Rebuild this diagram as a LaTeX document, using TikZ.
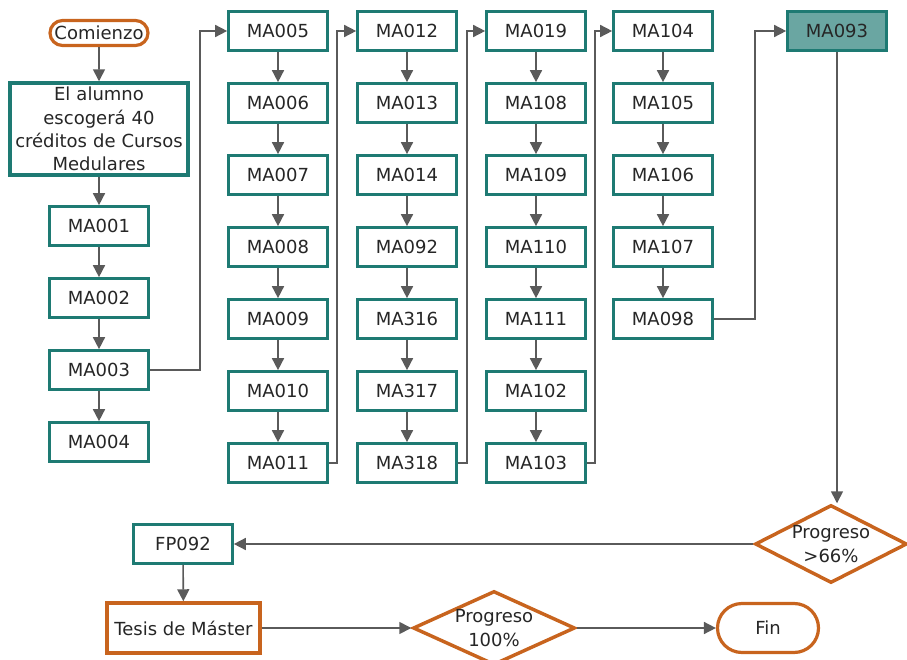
\documentclass[tikz,border=0pt]{standalone}
\usepackage{fontspec}
\setmainfont{DejaVu Sans}
\usetikzlibrary{shapes.geometric,shapes.misc,arrows.meta}
\definecolor{tealb}{RGB}{30,122,115}
\definecolor{orng}{RGB}{200,100,30}
\definecolor{arrg}{RGB}{90,90,90}
\definecolor{tealf}{RGB}{106,166,162}
\begin{document}
\begin{tikzpicture}[x=0.75pt,y=-0.75pt,
  every node/.style={font=\fontsize{13.5pt}{17.5pt}\selectfont, text=black!85},
  box/.style={draw=tealb, line width=2pt, fill=white, rectangle, minimum width=74.25pt, minimum height=29.25pt, inner sep=0pt},
  term/.style={draw=orng, line width=2.4pt, fill=white, rounded rectangle, inner sep=0pt},
  dec/.style={draw=orng, line width=2.6pt, fill=white, diamond, inner sep=0pt, align=center},
  arr/.style={draw=arrg, line width=1.2pt, -{Triangle[width=9pt,length=9pt]}},
  ln/.style={draw=arrg, line width=1.2pt}]
\useasboundingbox (0,0) rectangle (907,660);
% column 1
\node[term, minimum width=73.5pt, minimum height=18.75pt] (start) at (99,33) {Comienzo};
\node[box, line width=2.6pt, minimum width=133.5pt, minimum height=69pt, text width=130pt, align=center] (intro) at (99,129) {El alumno\\escoger\'a 40\\cr\'editos de Cursos\\Medulares};
\node[box] (a1) at (99,226) {MA001};
\node[box] (a2) at (99,298) {MA002};
\node[box] (a3) at (99,370) {MA003};
\node[box] (a4) at (99,442) {MA004};
% column 2
\node[box] (b1) at (278,31) {MA005};
\node[box] (b2) at (278,103) {MA006};
\node[box] (b3) at (278,175) {MA007};
\node[box] (b4) at (278,247) {MA008};
\node[box] (b5) at (278,319) {MA009};
\node[box] (b6) at (278,391) {MA010};
\node[box] (b7) at (278,463) {MA011};
% column 3
\node[box] (c1) at (407,31) {MA012};
\node[box] (c2) at (407,103) {MA013};
\node[box] (c3) at (407,175) {MA014};
\node[box] (c4) at (407,247) {MA092};
\node[box] (c5) at (407,319) {MA316};
\node[box] (c6) at (407,391) {MA317};
\node[box] (c7) at (407,463) {MA318};
% column 4
\node[box] (d1) at (536,31) {MA019};
\node[box] (d2) at (536,103) {MA108};
\node[box] (d3) at (536,175) {MA109};
\node[box] (d4) at (536,247) {MA110};
\node[box] (d5) at (536,319) {MA111};
\node[box] (d6) at (536,391) {MA102};
\node[box] (d7) at (536,463) {MA103};
% column 5
\node[box] (e1) at (663,31) {MA104};
\node[box] (e2) at (663,103) {MA105};
\node[box] (e3) at (663,175) {MA106};
\node[box] (e4) at (663,247) {MA107};
\node[box] (e5) at (663,319) {MA098};
% final
\node[box, fill=tealf] (f1) at (837,31) {MA093};
\node[dec, shape aspect=2, minimum width=114pt, minimum height=58.5pt] (p1) at (831,544) {Progreso\\>66\%};
\node[box] (fp) at (183,544) {FP092};
\node[draw=orng, line width=2.6pt, fill=white, rectangle, minimum width=114.75pt, minimum height=37.5pt, inner sep=0pt] (tesis) at (183.5,628) {Tesis de M\'aster};
\node[dec, shape aspect=2.2, minimum width=121.5pt, minimum height=55.5pt] (p2) at (494,628) {Progreso\\100\%};
\node[term, minimum width=75.75pt, minimum height=36.75pt] (fin) at (768,628) {Fin};
% junction coordinates
\coordinate (j1) at (200,200);
\coordinate (j2) at (337,200);
\coordinate (j3) at (467,200);
\coordinate (j4) at (595,200);
\coordinate (j5) at (755,200);
% connectors
\draw[arr] (start) -- (intro);
\draw[arr] (intro) -- (a1);
\draw[arr] (a1) -- (a2);
\draw[arr] (a2) -- (a3);
\draw[arr] (a3) -- (a4);
\foreach \p/\q in {b1/b2,b2/b3,b3/b4,b4/b5,b5/b6,b6/b7,c1/c2,c2/c3,c3/c4,c4/c5,c5/c6,c6/c7,d1/d2,d2/d3,d3/d4,d4/d5,d5/d6,d6/d7,e1/e2,e2/e3,e3/e4,e4/e5}
  \draw[arr] (\p) -- (\q);
\draw[arr] (a3.east) -| (j1) |- (b1.west);
\draw[arr] (b7.east) -| (j2) |- (c1.west);
\draw[arr] (c7.east) -| (j3) |- (d1.west);
\draw[arr] (d7.east) -| (j4) |- (e1.west);
\draw[arr] (e5.east) -| (j5) |- (f1.west);
\draw[arr] (f1.south) -- (f1.south |- p1.north);
\draw[arr] (p1.west) -- (fp.east);
\draw[arr] (fp) -- (tesis);
\draw[arr] (tesis.east) -- (p2.west);
\draw[arr] (p2.east) -- (fin.west);
\end{tikzpicture}
\end{document}
